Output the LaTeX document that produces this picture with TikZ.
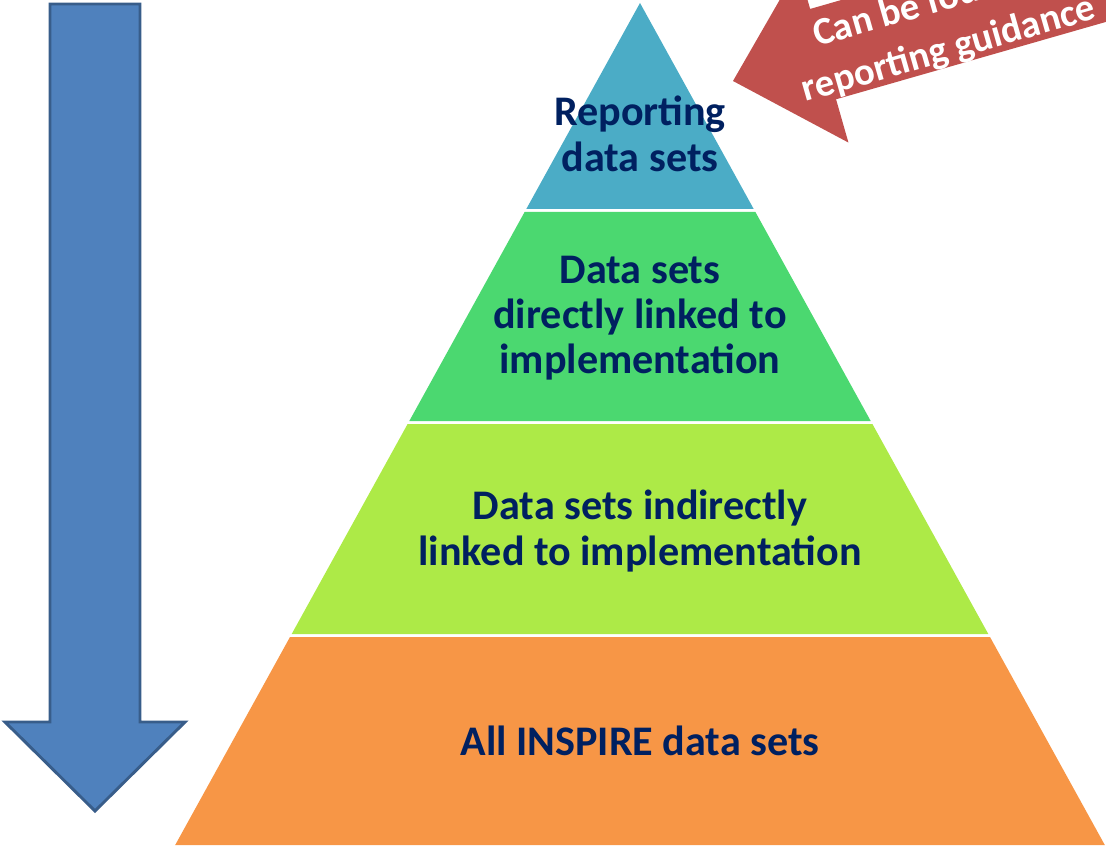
\documentclass[tikz,border=0pt]{standalone}
\usepackage{fontspec}
\setmainfont{Carlito}
\definecolor{arrowblue}{HTML}{4F81BD}
\definecolor{arrowblueline}{HTML}{385D8A}
\definecolor{arrowred}{HTML}{C0504D}
\definecolor{layerone}{HTML}{4BACC6}
\definecolor{layertwo}{HTML}{4BD870}
\definecolor{layerthree}{HTML}{ADEA47}
\definecolor{layerfour}{HTML}{F79646}
\definecolor{navytext}{RGB}{0,32,96}
\begin{document}
\begin{tikzpicture}[x=0.75pt,y=-0.75pt,
  layertext/.style={inner sep=0pt, align=center, text=navytext,
    font=\bfseries\fontsize{31.6pt}{34pt}\selectfont},
  calltext/.style={inner sep=0pt, align=center, text=white,
    font=\bfseries\fontsize{29pt}{37.5pt}\selectfont}]
\useasboundingbox (0,0) rectangle (1106,848);
\clip (0,0) rectangle (1106,848);
% blue down arrow
\draw[fill=arrowblue, draw=arrowblueline, line width=2.2pt, line join=miter]
  (50,4) -- (140,4) -- (140,722) -- (185,722) -- (95,811) -- (5,722) -- (50,722) -- cycle;
% pyramid layers
\fill[layerone] (640,3) -- (753.7,209) -- (526.3,209) -- cycle;
\fill[layertwo] (524.6,212) -- (755.4,212) -- (870.7,421) -- (409.3,421) -- cycle;
\fill[layerthree] (407.6,424) -- (872.4,424) -- (988.3,634) -- (291.7,634) -- cycle;
\fill[layerfour] (290,637) -- (990,637) -- (1104.8,845) -- (175.2,845) -- cycle;
\node[layertext] (l1) at (640,134) {Reporting\\data sets};
\node[layertext] (l2) at (640,318) {Data sets\\directly linked to\\implementation};
\node[layertext] (l3) at (640,531) {Data sets indirectly\\linked to implementation};
\node[layertext] (l4) at (640,741) {All INSPIRE data sets};
% red callout arrow
\begin{scope}[shift={(733,81)}, rotate=16, transform shape]
  \fill[arrowred] (0,0) -- (94,91) -- (94,46) -- (600,46) -- (600,-48) -- (94,-48) -- (94,-91) -- cycle;
  \node[calltext] (call) at (216,5) {Can be found in\\reporting guidance};
\end{scope}
\end{tikzpicture}
\end{document}
